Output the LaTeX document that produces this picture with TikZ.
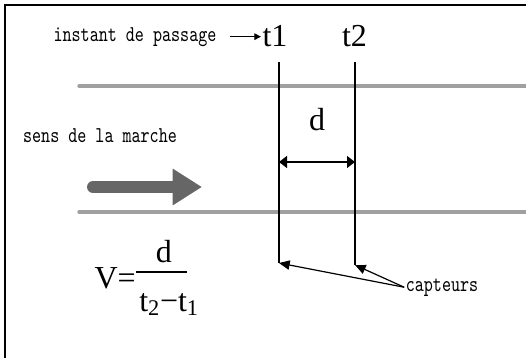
\documentclass[tikz,border=0pt]{standalone}
\usepackage{fontspec}
\setmainfont{Liberation Serif}
\setmonofont{lmmono10-regular.otf}[FakeStretch=0.76]
\usetikzlibrary{arrows.meta,positioning}
\definecolor{roadgray}{HTML}{A0A0A0}
\definecolor{walkgray}{HTML}{666666}
\tikzset{
    ttlabel/.style={font=\fontsize{17}{20}\selectfont\ttfamily, inner sep=1pt},
    rmlabel/.style={font=\fontsize{24}{28}\selectfont, inner sep=1pt},
    road/.style={line width=2.6pt, draw=roadgray, line cap=round},
    sensor/.style={line width=0.9pt},
    dimarrow/.style={{Triangle[length=6pt,width=9pt]}-{Triangle[length=6pt,width=9pt]}, line width=0.9pt},
    sensarrow/.style={-{Triangle[length=8pt,width=7pt]}, line width=0.9pt},
    timearrow/.style={-{Triangle[length=5pt,width=5pt]}, line width=0.9pt}
}

\begin{document}
\begin{tikzpicture}[x=0.75pt,y=-0.75pt]
\useasboundingbox (0,0) rectangle (526,358);
\draw[line width=1.5pt] (526,4.5) -- (4.5,4.5) -- (4.5,358);

% passage times
\node[ttlabel, anchor=base] (passage) at (135,41) {instant de passage};
\node[rmlabel, anchor=base] (t1) at (275,46) {t1};
\node[rmlabel, anchor=base] (t2) at (354.5,46) {t2};
\draw[timearrow] ([xshift=9pt]passage.east) -- (t1.west |- passage.east);

% road
\draw[road] (79,86) -- (526,86);
\draw[road] (79,212) -- (526,212);

% sensors
\coordinate (s1top) at (279,62);
\coordinate (s1bot) at (279,263);
\coordinate (s2top) at (355,62);
\coordinate (s2bot) at (355,265);
\draw[sensor] (s1top) -- (s1bot);
\draw[sensor] (s2top) -- (s2bot);
\coordinate (dleft) at (279,162);
\coordinate (dright) at (355,162);
\draw[dimarrow] (dleft) -- (dright);
\node[rmlabel, anchor=base] (dist) at (317,130) {d};

% walking direction
\node[ttlabel, anchor=base] (sens) at (100,142) {sens de la marche};
\coordinate (walkstart) at (93,187);
\coordinate (walkend) at (202,187);
\draw[line width=9pt, draw=walkgray, line cap=round,
      -{Triangle[length=22pt,width=26pt]}] (walkstart) -- (walkend);

% speed
\node[rmlabel, anchor=base east, inner sep=0pt] (speed) at (136,288) {V=};
\node[rmlabel, anchor=base, inner sep=0pt] (num) at (164,262) {d};
\node[rmlabel, anchor=base west, inner sep=0pt] (den) at (139,311) {t\textsubscript{2}−t\textsubscript{1}};
\coordinate (barleft) at (136,272);
\coordinate (barright) at (187,272);
\draw[line width=0.8pt] (barleft) -- (barright);

% captors
\node[ttlabel, anchor=base] (capteurs) at (442,291) {capteurs};
\draw[sensarrow] (capteurs.west) -- (s1bot);
\draw[sensarrow] (capteurs.west) -- (s2bot);
\end{tikzpicture}
\end{document}
